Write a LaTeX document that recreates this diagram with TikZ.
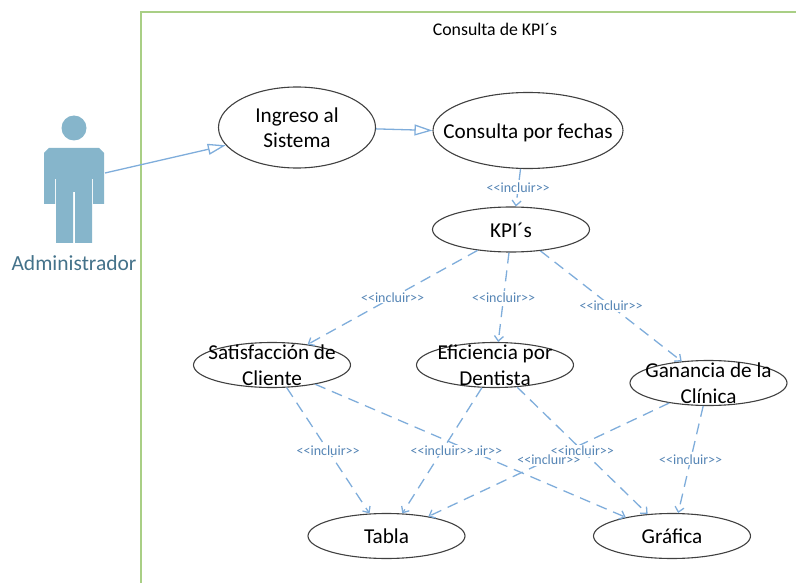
\documentclass[tikz,border=0pt]{standalone}
\usepackage{fontspec}
\setmainfont{Carlito}
\usepackage{tikz}
\usetikzlibrary{shapes.geometric,arrows.meta}
\definecolor{umlblue}{HTML}{7FADDB}
\definecolor{umltext}{HTML}{5585B5}
\definecolor{actorblue}{HTML}{86B5CB}
\definecolor{actortext}{HTML}{44728A}
\definecolor{framegreen}{HTML}{A9CF85}
\newcommand{\casetext}[1]{\smash{\makebox[0pt]{\raisebox{-.36em}{\begin{tabular}[c]{@{}c@{}}#1\end{tabular}}}}}
\newcommand{\incl}{<{}<{}incluir>{}>}
\tikzset{
   usecase node/.style={ellipse,draw=black!75,line width=1.1pt,fill=white,inner sep=0pt,
                        minimum width=157,minimum height=45,
                        font=\fontsize{21.2}{25.5}\selectfont},
   include node/.style={fill=white,inner sep=1pt,text=umltext,font=\fontsize{14}{15}\selectfont},
   assoc/.style={draw=umlblue,line width=1.3pt,-{Triangle[open,length=18pt,width=11pt]}},
   inclusion/.style={draw=umlblue,line width=1.3pt,dash pattern=on 11pt off 7pt,
                     -{Straight Barb[length=5pt,width=9pt]}}
}
\begin{document}
\begin{tikzpicture}[x=1pt,y=-1pt]
\useasboundingbox (0,0) rectangle (796,583);
\draw[draw=framegreen,line width=1.3pt] (141,583) -- (141,12) -- (796,12);
\node[font=\fontsize{17.8}{19}\selectfont] (title) at (495,29) {Consulta de KPI´s};
% actor
\fill[actorblue] (74,128) circle (12.5);
\fill[actorblue] (49,148) -- (99,148) -- (104,153) -- (104,204) -- (93,204) -- (93,179) -- (92,179) -- (92,243)
  -- (75,243) -- (75,192) -- (73,192) -- (73,243) -- (56,243) -- (56,179) -- (55,179) -- (55,204) -- (44,204)
  -- (44,153) -- cycle;
\node[text=actortext,font=\fontsize{21.5}{22}\selectfont] (admin) at (74,263) {Administrador};
\coordinate (actor) at (105,173);
% casos de uso
\node[usecase node,minimum height=81] (ingreso) at (297,127.5) {\casetext{Ingreso al\\Sistema}};
\node[usecase node,minimum width=190,minimum height=76] (consulta) at (528,130.5) {\casetext{Consulta por fechas}};
\node[usecase node] (kpi)      at (511,229.5) {\casetext{KPI´s}};
\node[usecase node] (satisf)   at (272,365)   {\casetext{Satisfacción de\\Cliente}};
\node[usecase node] (eficien)  at (495,365)   {\casetext{Eficiencia por\\Dentista}};
\node[usecase node] (ganancia) at (708.5,383) {\casetext{Ganancia de la\\Clínica}};
\node[usecase node] (tabla)    at (386.5,536) {\casetext{Tabla}};
\node[usecase node] (grafica)  at (672,536)   {\casetext{Gráfica}};
%
\draw[assoc] (actor) -- (ingreso.194);
\draw[assoc] (ingreso.359) -- (consulta.180);
%
\path[every node/.style={include node}]
  (consulta.259) edge[inclusion] node {\incl} (kpi.78)
  (kpi.212) edge[inclusion] node {\incl} (satisf.30)
  (kpi.265) edge[inclusion] node {\incl} (eficien.82)
  (kpi.324) edge[inclusion] node {\incl} (ganancia.141)
  (satisf.303) edge[inclusion] node {\incl} (tabla.127)
  (satisf.336) edge[inclusion] node {\incl} (grafica.158)
  (ganancia.207) edge[inclusion] node {\incl} (tabla.25)
  (eficien.240) edge[inclusion] node {\incl} (tabla.55)
  (eficien.315) edge[inclusion] node {\incl} (grafica.138)
  (ganancia.257) edge[inclusion] node {\incl} (grafica.75)
  ;
\end{tikzpicture}
\end{document}
